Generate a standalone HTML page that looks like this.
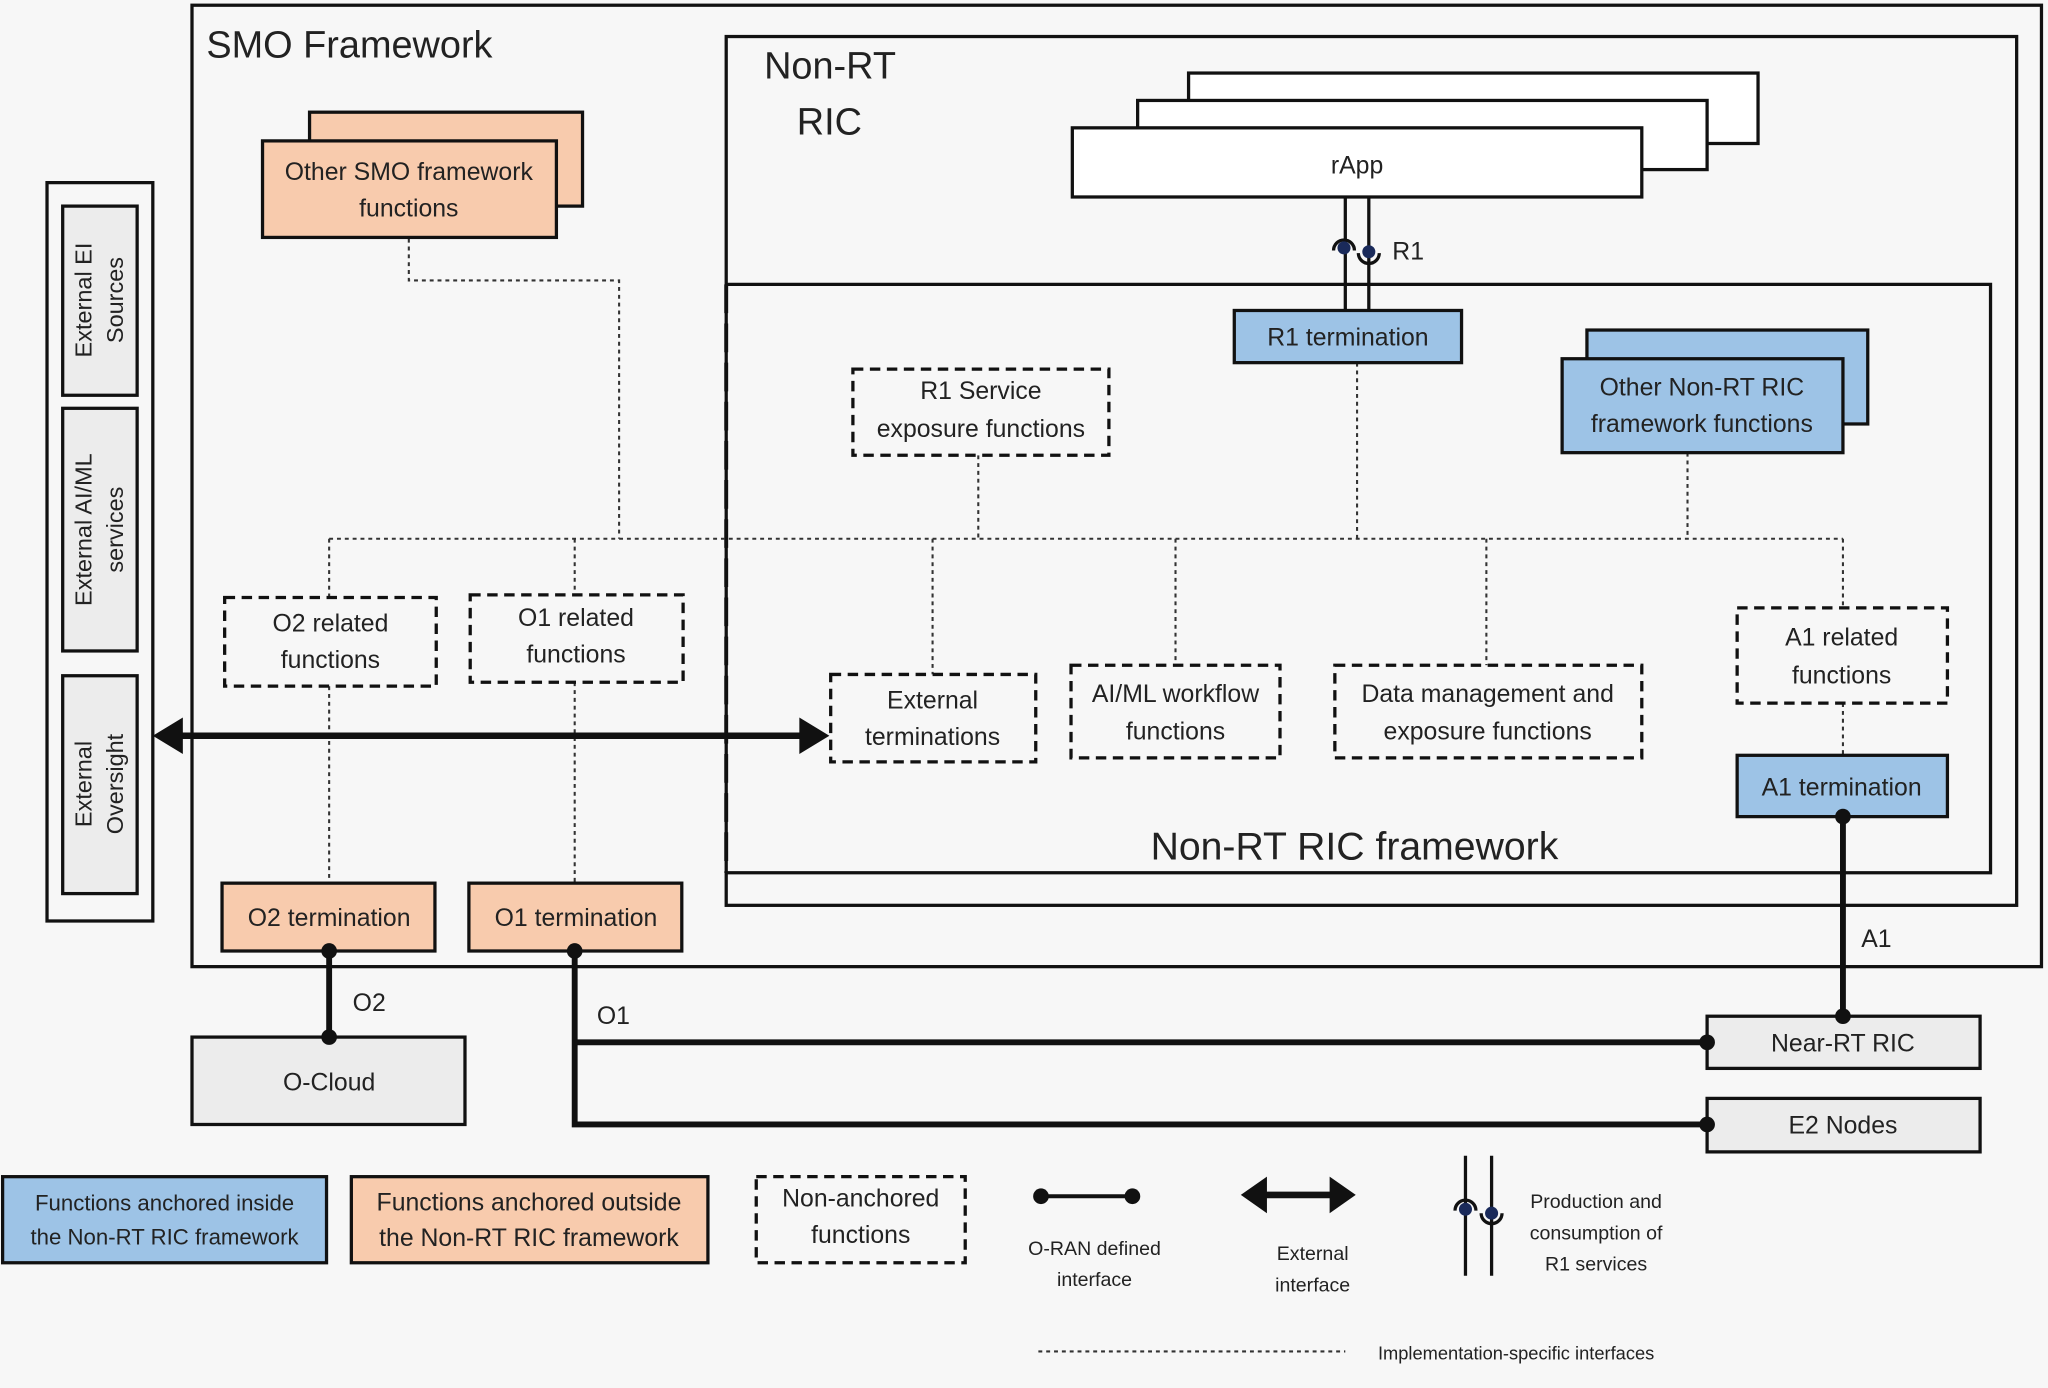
<!DOCTYPE html>
<html><head><meta charset="utf-8"><style>
html,body{margin:0;padding:0;background:#f7f7f7;}
svg{display:block;}
text{font-family:"Liberation Sans",sans-serif;fill:#222;}
</style></head><body>
<svg width="2048" height="1388" viewBox="0 0 1568 1064" preserveAspectRatio="none" xmlns="http://www.w3.org/2000/svg">
<rect x="0" y="0" width="1568" height="1064" fill="#f7f7f7"/>
<g fill="none" stroke="#111">
<rect x="147" y="4" width="1416" height="737" stroke-width="2.5"/>
<rect x="556" y="28" width="988" height="666" stroke-width="2.5"/>
<!-- rApps -->
<rect x="910" y="56" width="436" height="54" fill="#fff" stroke-width="2.5"/>
<rect x="871" y="77" width="436" height="53" fill="#fff" stroke-width="2.5"/>
<rect x="821" y="98" width="436" height="53" fill="#fff" stroke-width="2.5"/>
<!-- framework -->
<path d="M556 218 H1524 V669 H556" stroke-width="2.5"/>
<line x1="556" y1="218" x2="556" y2="669" stroke-width="3" stroke-dasharray="22 8"/>
</g>
<text x="158" y="44" font-size="29">SMO Framework</text>
<text x="585" y="60" font-size="29">Non-RT</text>
<text x="610" y="103" font-size="29">RIC</text>
<text x="1039" y="133" font-size="19" text-anchor="middle">rApp</text>
<!-- R1 symbol -->
<g stroke="#111" stroke-width="2.5" fill="none">
<line x1="1030" y1="151" x2="1030" y2="238"/><line x1="1048" y1="151" x2="1048" y2="238"/>
<path d="M1021 192 a8 8 0 0 1 16 0"/><path d="M1040 194 a8 8 0 0 0 16 0"/>
</g>
<circle cx="1029" cy="190" r="5" fill="#1a2a5a"/><circle cx="1048" cy="193" r="5" fill="#1a2a5a"/>
<text x="1066" y="199" font-size="19">R1</text>
<!-- dotted lines -->
<g stroke="#333" stroke-width="1.6" stroke-dasharray="3 3" fill="none">
<path d="M313 183 V215 H474 V413"/>
<line x1="252" y1="413" x2="1411" y2="413"/>
<line x1="749" y1="349" x2="749" y2="413"/>
<line x1="1039" y1="278" x2="1039" y2="413"/>
<line x1="1292" y1="347" x2="1292" y2="413"/>
<line x1="252" y1="413" x2="252" y2="458"/>
<line x1="440" y1="413" x2="440" y2="456"/>
<line x1="714" y1="413" x2="714" y2="517"/>
<line x1="900" y1="413" x2="900" y2="510"/>
<line x1="1138" y1="413" x2="1138" y2="510"/>
<line x1="1411" y1="413" x2="1411" y2="466"/>
<line x1="1411" y1="539" x2="1411" y2="579"/>
<line x1="252" y1="526" x2="252" y2="677"/>
<line x1="440" y1="523" x2="440" y2="677"/>
<line x1="795" y1="1036" x2="1030" y2="1036"/>
</g>
<!-- boxes -->
<g stroke="#111" stroke-width="2.5">
<rect x="237" y="86" width="209" height="72" fill="#f8cbad"/>
<rect x="201" y="108" width="225" height="74" fill="#f8cbad"/>
<rect x="945" y="238" width="174" height="40" fill="#9dc3e6"/>
<rect x="1215" y="253" width="215" height="72" fill="#9dc3e6"/>
<rect x="1196" y="275" width="215" height="72" fill="#9dc3e6"/>
<rect x="1330" y="579" width="161" height="47" fill="#9dc3e6"/>
<rect x="170" y="677" width="163" height="52" fill="#f8cbad"/>
<rect x="359" y="677" width="163" height="52" fill="#f8cbad"/>
<rect x="147" y="795" width="209" height="67" fill="#ececec"/>
<rect x="1307" y="779" width="209" height="40" fill="#ececec"/>
<rect x="1307" y="842" width="209" height="41" fill="#ececec"/>
<rect x="36" y="140" width="81" height="566" fill="#f7f7f7"/>
<rect x="48" y="158" width="57" height="145" fill="#ececec"/>
<rect x="48" y="313" width="57" height="186" fill="#ececec"/>
<rect x="48" y="518" width="57" height="167" fill="#ececec"/>
<rect x="2" y="902" width="248" height="66" fill="#9dc3e6"/>
<rect x="269" y="902" width="273" height="66" fill="#f8cbad"/>
</g>
<g stroke="#111" stroke-width="2.5" fill="#f7f7f7" stroke-dasharray="8 5">
<rect x="653" y="283" width="196" height="66"/>
<rect x="172" y="458" width="162" height="68"/>
<rect x="360" y="456" width="163" height="67"/>
<rect x="636" y="517" width="157" height="67"/>
<rect x="820" y="510" width="160" height="71"/>
<rect x="1022" y="510" width="235" height="71"/>
<rect x="1330" y="466" width="161" height="73"/>
<rect x="579" y="902" width="160" height="66"/>
</g>
<g font-size="19" text-anchor="middle">
<text x="313" y="138">Other SMO framework</text><text x="313" y="166">functions</text>
<text x="1032" y="265">R1 termination</text>
<text x="1303" y="303">Other Non-RT RIC</text><text x="1303" y="331">framework functions</text>
<text x="751" y="306">R1 Service</text><text x="751" y="335">exposure functions</text>
<text x="253" y="484">O2 related</text><text x="253" y="512">functions</text>
<text x="441" y="480">O1 related</text><text x="441" y="508">functions</text>
<text x="714" y="543">External</text><text x="714" y="571">terminations</text>
<text x="900" y="538">AI/ML workflow</text><text x="900" y="567">functions</text>
<text x="1139" y="538">Data management and</text><text x="1139" y="567">exposure functions</text>
<text x="1410" y="495">A1 related</text><text x="1410" y="524">functions</text>
<text x="1410" y="610">A1 termination</text>
<text x="252" y="710">O2 termination</text>
<text x="441" y="710">O1 termination</text>
<text x="252" y="836">O-Cloud</text>
<text x="1411" y="806">Near-RT RIC</text>
<text x="1411" y="869">E2 Nodes</text>
<text x="126" y="928" font-size="17">Functions anchored inside</text><text x="126" y="954" font-size="17">the Non-RT RIC framework</text>
<text x="405" y="928">Functions anchored outside</text><text x="405" y="955">the Non-RT RIC framework</text>
<text x="659" y="925">Non-anchored</text><text x="659" y="953">functions</text>
</g>
<text x="1037" y="659" font-size="30" text-anchor="middle">Non-RT RIC framework</text>
<g font-size="18" text-anchor="middle">
<text transform="translate(70,230) rotate(-90)">External EI</text><text transform="translate(94,230) rotate(-90)">Sources</text>
<text transform="translate(70,406) rotate(-90)">External AI/ML</text><text transform="translate(94,406) rotate(-90)">services</text>
<text transform="translate(70,601) rotate(-90)">External</text><text transform="translate(94,601) rotate(-90)">Oversight</text>
</g>
<!-- thick interfaces -->
<g stroke="#111" stroke-width="4.5" fill="none">
<line x1="252" y1="729" x2="252" y2="795"/>
<path d="M440 729 V862 H1307"/>
<line x1="440" y1="799" x2="1307" y2="799"/>
<line x1="1411" y1="626" x2="1411" y2="779"/>
<line x1="135" y1="564" x2="615" y2="564" stroke-width="5"/>
<line x1="797" y1="917" x2="867" y2="917" stroke-width="3"/>
<line x1="965" y1="916" x2="1023" y2="916" stroke-width="5"/>
<line x1="1122" y1="886" x2="1122" y2="978" stroke-width="2.5"/><line x1="1142" y1="886" x2="1142" y2="978" stroke-width="2.5"/>
<path d="M1114 928 a8 8 0 0 1 16 0" stroke-width="2.5"/><path d="M1134 930 a8 8 0 0 0 16 0" stroke-width="2.5"/>
</g>
<g fill="#111">
<polygon points="117,564 140,550 140,578"/><polygon points="635,564 612,550 612,578"/>
<polygon points="950,916 970,902 970,930"/><polygon points="1038,916 1018,902 1018,930"/>
<circle cx="252" cy="729" r="6"/><circle cx="252" cy="795" r="6"/>
<circle cx="440" cy="729" r="6"/><circle cx="1307" cy="799" r="6"/><circle cx="1307" cy="862" r="6"/>
<circle cx="1411" cy="626" r="6"/><circle cx="1411" cy="779" r="6"/>
<circle cx="797" cy="917" r="6"/><circle cx="867" cy="917" r="6"/>
</g>
<circle cx="1122" cy="927" r="5" fill="#1a2a5a"/><circle cx="1142" cy="930" r="5" fill="#1a2a5a"/>
<text x="270" y="775" font-size="19">O2</text>
<text x="457" y="785" font-size="19">O1</text>
<text x="1425" y="726" font-size="19">A1</text>
<g font-size="15" text-anchor="middle" fill="#444">
<text x="838" y="962">O-RAN defined</text><text x="838" y="986">interface</text>
<text x="1005" y="966">External</text><text x="1005" y="990">interface</text>
<text x="1222" y="926">Production and</text><text x="1222" y="950">consumption of</text><text x="1222" y="974">R1 services</text>
</g>
<text x="1055" y="1042" font-size="14">Implementation-specific interfaces</text>
</svg>
</body></html>
